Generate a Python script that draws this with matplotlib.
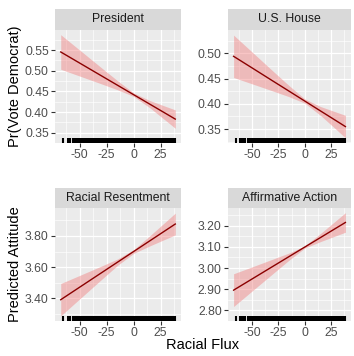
import numpy as np
import matplotlib
matplotlib.use("Agg")
import matplotlib.pyplot as plt

plt.rcParams["font.family"] = ["Liberation Sans", "DejaVu Sans"]

W, H = 354, 356

# predicted values at a few points of racial flux
flux = [-67.5, -50, -30, -15, 0, 15, 30, 38.5]

pres_fit = [0.5455, 0.5187, 0.4880, 0.4650, 0.4420, 0.4190, 0.3960, 0.3829]
pres_lo = [0.5036, 0.4872, 0.4684, 0.4540, 0.4378, 0.4102, 0.3787, 0.3606]
pres_hi = [0.5874, 0.5502, 0.5076, 0.4760, 0.4462, 0.4278, 0.4133, 0.4052]

house_fit = [0.4940, 0.4711, 0.4448, 0.4252, 0.4055, 0.3858, 0.3662, 0.3550]
house_lo = [0.4521, 0.4396, 0.4252, 0.4142, 0.4013, 0.3770, 0.3489, 0.3327]
house_hi = [0.5359, 0.5026, 0.4644, 0.4362, 0.4097, 0.3946, 0.3835, 0.3773]

rr_fit = [3.3918, 3.4717, 3.5630, 3.6315, 3.7000, 3.7685, 3.8370, 3.8758]
rr_lo = [3.2884, 3.3965, 3.5197, 3.6111, 3.6881, 3.7361, 3.7810, 3.8062]
rr_hi = [3.4952, 3.5469, 3.6063, 3.6519, 3.7119, 3.8009, 3.8930, 3.9454]

aa_fit = [2.8956, 2.9483, 3.0086, 3.0538, 3.0990, 3.1442, 3.1894, 3.2150]
aa_lo = [2.8183, 2.8913, 2.9746, 3.0368, 3.0939, 3.1249, 3.1531, 3.1689]
aa_hi = [2.9729, 3.0053, 3.0426, 3.0708, 3.1041, 3.1635, 3.2257, 3.2611]

# observed racial flux values (rug)
rug_x = [-65.5, -61.0, -60.0, -59.0, -56.5,
         -54, -53, -52, -51, -50, -49, -48, -47, -46, -45,
         -44, -43, -42, -41, -40, -39, -38, -37, -36, -35,
         -34, -33, -32, -31, -30, -29, -28, -27, -26, -25,
         -24, -23, -22, -21, -20, -19, -18, -17, -16, -15,
         -14, -13, -12, -11, -10, -9, -8, -7, -6, -5,
         -4, -3, -2, -1, 0, 1, 2, 3, 4, 5,
         6, 7, 8, 9, 10, 11, 12, 13, 14, 15,
         16, 17, 18, 19, 20, 21, 22, 23, 24, 25,
         26, 27, 28, 29, 30, 31, 32, 33, 34, 35, 36, 38.5]

x_ticks = [-50, -25, 0, 25]
x_minor = [-62.5, -37.5, -12.5, 12.5, 37.5]

panels = [
    ("President", pres_fit, pres_lo, pres_hi,
     [0.35, 0.40, 0.45, 0.50, 0.55], "{:.2f}"),
    ("U.S. House", house_fit, house_lo, house_hi,
     [0.35, 0.40, 0.45, 0.50], "{:.2f}"),
    ("Racial Resentment", rr_fit, rr_lo, rr_hi,
     [3.40, 3.60, 3.80], "{:.2f}"),
    ("Affirmative Action", aa_fit, aa_lo, aa_hi,
     [2.80, 2.90, 3.00, 3.10, 3.20], "{:.2f}"),
]

# pixel boxes: (left, right, strip top, panel top, panel bottom)
boxes = [
    (55, 181, 9, 30, 143),
    (228, 351, 9, 30, 143),
    (55, 181, 188, 208, 321),
    (228, 351, 188, 208, 321),
]


def rect(x0, x1, ytop, ybot):
    return [x0 / W, 1 - ybot / H, (x1 - x0) / W, (ybot - ytop) / H]


def expand(lo, hi, mult=0.05):
    r = hi - lo
    return lo - mult * r, hi + mult * r


fig = plt.figure(figsize=(W / 100, H / 100), dpi=100)

xlim = expand(min(flux), max(flux))

for (title, fit, lo, hi, yt, fmt), (x0, x1, st, pt, pb) in zip(panels, boxes):
    ax = fig.add_axes(rect(x0, x1, pt, pb))
    ax.set_facecolor("#EBEBEB")
    for s in ax.spines.values():
        s.set_visible(False)

    ax.fill_between(flux, lo, hi, color="#F08080", alpha=0.45, lw=0, zorder=2)
    ax.plot(flux, fit, color="#8B0000", lw=1.0, zorder=3)
    ax.vlines(rug_x, 0, 0.045, transform=ax.get_xaxis_transform(),
              color="black", lw=1.5, zorder=4)

    ax.set_xlim(xlim)
    ax.set_ylim(expand(min(lo), max(hi)))

    ax.set_xticks(x_ticks)
    ax.set_xticks(x_minor, minor=True)
    ax.set_xticklabels([str(t) for t in x_ticks])
    ax.set_yticks(yt)
    step = yt[1] - yt[0]
    ax.set_yticks([t + step / 2 for t in [yt[0] - step] + yt], minor=True)
    ax.set_yticklabels([fmt.format(t) for t in yt])

    ax.grid(which="major", color="white", lw=0.9, zorder=0)
    ax.grid(which="minor", color="white", lw=0.45, zorder=0)
    ax.set_axisbelow(True)
    ax.tick_params(which="major", length=3, width=0.8, color="#333333",
                   labelsize=8.8, labelcolor="#4D4D4D", pad=1.5)
    ax.tick_params(which="minor", length=0)

    sax = fig.add_axes(rect(x0, x1, st, pt))
    sax.set_facecolor("#D9D9D9")
    sax.set_xticks([])
    sax.set_yticks([])
    for s in sax.spines.values():
        s.set_visible(False)
    sax.text(0.5, 0.5, title, ha="center", va="center", fontsize=8.8,
             color="#1A1A1A", transform=sax.transAxes)

fig.text(15 / W, 1 - 86.5 / H, "Pr(Vote Democrat)", rotation=90,
         ha="center", va="center", fontsize=10.5, color="black")
fig.text(15 / W, 1 - 264 / H, "Predicted Attitude", rotation=90,
         ha="center", va="center", fontsize=10.5, color="black")
fig.text(203 / W, 1 - 345 / H, "Racial Flux", ha="center", va="center",
         fontsize=10.5, color="black")

fig.savefig("out.png", dpi=100)
